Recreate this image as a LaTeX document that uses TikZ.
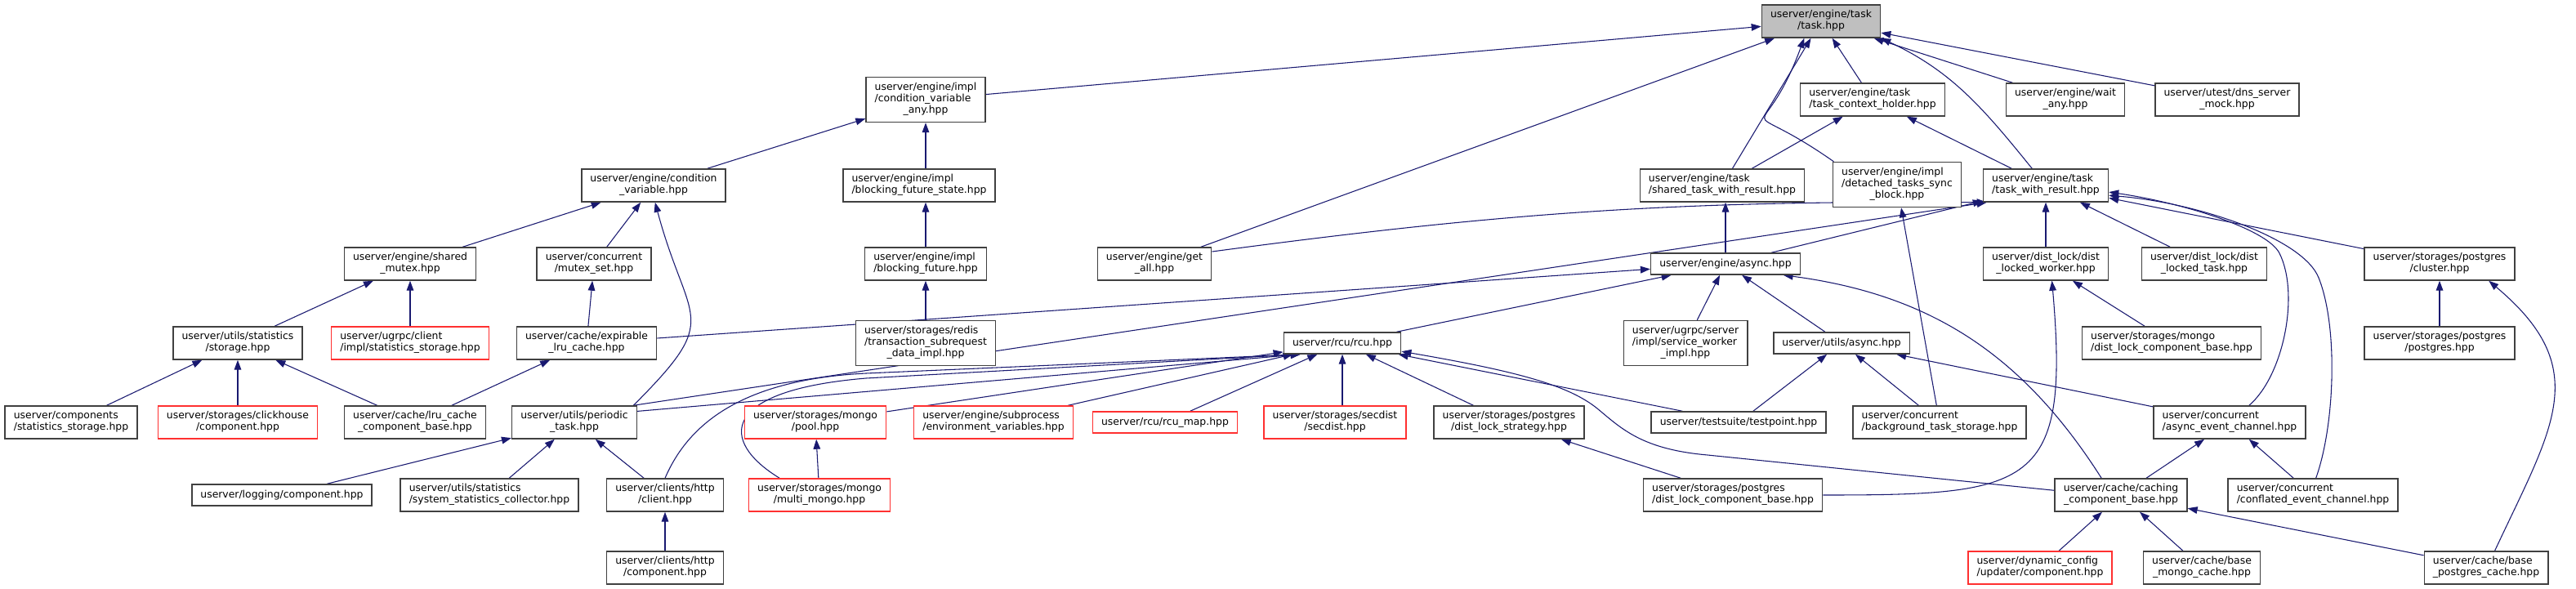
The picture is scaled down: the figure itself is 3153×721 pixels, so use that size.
\documentclass[tikz,border=0pt]{standalone}
\usepackage{fontspec}
\setmainfont{DejaVu Sans}
\usetikzlibrary{arrows.meta,backgrounds}
\definecolor{edgeblue}{HTML}{191970}
\definecolor{truncred}{HTML}{FF3030}
\definecolor{rootgray}{HTML}{BFBFBF}
\definecolor{boxline}{HTML}{404040}
\newcommand{\ltwo}[2]{\begin{tabular}{@{}l@{}}#1\\\multicolumn{1}{@{}c@{}}{#2}\end{tabular}}
\newcommand{\lthree}[3]{\begin{tabular}{@{}l@{}}#1\\#2\\\multicolumn{1}{@{}c@{}}{#3}\end{tabular}}

\begin{document}
\begin{tikzpicture}[x=0.75pt,y=-0.75pt,
  box/.style={draw=boxline,line width=1.1pt,fill=white,inner xsep=8pt,inner ysep=2pt,
    minimum height=19.5pt,font=\fontsize{9.3}{10.5}\selectfont},
  two/.style={minimum height=30pt},
  three/.style={minimum height=41.25pt},
  rbox/.style={box,draw=truncred},
  root/.style={box,fill=rootgray},
  incl/.style={draw=edgeblue,line width=0.8pt,-{Triangle[length=9pt,width=6.5pt]}}]

\useasboundingbox (0,0) rectangle (3153,721);

% --- row 0 : the header itself ---------------------------------------
\node[root,two] (task) at (2229,26) {\ltwo{userver/engine/task}{/task.hpp}};

% --- row 1 --------------------------------------------------------------
\node[box,three] (cva)  at (1133,122) {\lthree{userver/engine/impl}{/condition\_variable}{\_any.hpp}};
\node[box,two]   (tch)  at (2292,122) {\ltwo{userver/engine/task}{/task\_context\_holder.hpp}};
\node[box,two]   (wany) at (2528,122) {\ltwo{userver/engine/wait}{\_any.hpp}};
\node[box,two]   (dns)  at (2726,122) {\ltwo{userver/utest/dns\_server}{\_mock.hpp}};

% --- row 2 --------------------------------------------------------------
\node[box,two]   (cv)   at (800,227)  {\ltwo{userver/engine/condition}{\_variable.hpp}};
\node[box,two]   (bfs)  at (1125,227) {\ltwo{userver/engine/impl}{/blocking\_future\_state.hpp}};
\node[box,two]   (stwr) at (2108,227) {\ltwo{userver/engine/task}{/shared\_task\_with\_result.hpp}};
\node[box,three] (det)  at (2322,226) {\lthree{userver/engine/impl}{/detached\_tasks\_sync}{\_block.hpp}};
\node[box,two]   (twr)  at (2504,227) {\ltwo{userver/engine/task}{/task\_with\_result.hpp}};

% --- row 3 --------------------------------------------------------------
\node[box,two]   (smx)    at (502,323)  {\ltwo{userver/engine/shared}{\_mutex.hpp}};
\node[box,two]   (mxs)    at (727,323)  {\ltwo{userver/concurrent}{/mutex\_set.hpp}};
\node[box,two]   (bf)     at (1133,323) {\ltwo{userver/engine/impl}{/blocking\_future.hpp}};
\node[box,two]   (gall)   at (1413,323) {\ltwo{userver/engine/get}{\_all.hpp}};
\node[box]       (easync) at (2112,323) {userver/engine/async.hpp};
\node[box,two]   (dlw)    at (2504,323) {\ltwo{userver/dist\_lock/dist}{\_locked\_worker.hpp}};
\node[box,two]   (dlt)    at (2698,323) {\ltwo{userver/dist\_lock/dist}{\_locked\_task.hpp}};
\node[box,two]   (clus)   at (2986,323) {\ltwo{userver/storages/postgres}{/cluster.hpp}};

% --- row 4 --------------------------------------------------------------
\node[box,two]   (ststor) at (291,420)  {\ltwo{userver/utils/statistics}{/storage.hpp}};
\node[rbox,two]  (gcstat) at (502,420)  {\ltwo{userver/ugrpc/client}{/impl/statistics\_storage.hpp}};
\node[box,two]   (exlru)  at (718,420)  {\ltwo{userver/cache/expirable}{\_lru\_cache.hpp}};
\node[box,three] (trx)    at (1133,420) {\lthree{userver/storages/redis}{/transaction\_subrequest}{\_data\_impl.hpp}};
\node[box]       (rcu)    at (1643,420) {userver/rcu/rcu.hpp};
\node[box,three] (gsrv)   at (2063,420) {\lthree{userver/ugrpc/server}{/impl/service\_worker}{\_impl.hpp}};
\node[box]       (uasync) at (2254,420) {userver/utils/async.hpp};
\node[box,two]   (mdl)    at (2658,420) {\ltwo{userver/storages/mongo}{/dist\_lock\_component\_base.hpp}};
\node[box,two]   (pgpg)   at (2986,420) {\ltwo{userver/storages/postgres}{/postgres.hpp}};

% --- row 5 --------------------------------------------------------------
\node[box,two]  (cstat)  at (87,517)   {\ltwo{userver/components}{/statistics\_storage.hpp}};
\node[rbox,two] (chc)    at (291,517)  {\ltwo{userver/storages/clickhouse}{/component.hpp}};
\node[box,two]  (lruc)   at (508,517)  {\ltwo{userver/cache/lru\_cache}{\_component\_base.hpp}};
\node[box,two]  (ptask)  at (703,517)  {\ltwo{userver/utils/periodic}{\_task.hpp}};
\node[rbox,two] (mpool)  at (998,517)  {\ltwo{userver/storages/mongo}{/pool.hpp}};
\node[rbox,two] (envv)   at (1216,517) {\ltwo{userver/engine/subprocess}{/environment\_variables.hpp}};
\node[rbox]     (rmap)   at (1426,517) {userver/rcu/rcu\_map.hpp};
\node[rbox,two] (sdist)  at (1634,517) {\ltwo{userver/storages/secdist}{/secdist.hpp}};
\node[box,two]  (dlstr)  at (1847,517) {\ltwo{userver/storages/postgres}{/dist\_lock\_strategy.hpp}};
\node[box]      (tpoint) at (2128,517) {userver/testsuite/testpoint.hpp};
\node[box,two]  (bts)    at (2374,517) {\ltwo{userver/concurrent}{/background\_task\_storage.hpp}};
\node[box,two]  (aec)    at (2729,517) {\ltwo{userver/concurrent}{/async\_event\_channel.hpp}};

% --- row 6 --------------------------------------------------------------
\node[box]      (logc) at (345,606)  {userver/logging/component.hpp};
\node[box,two]  (ssc)  at (599,606)  {\ltwo{userver/utils/statistics}{/system\_statistics\_collector.hpp}};
\node[box,two]  (hcl)  at (814,606)  {\ltwo{userver/clients/http}{/client.hpp}};
\node[rbox,two] (mmon) at (1003,606) {\ltwo{userver/storages/mongo}{/multi\_mongo.hpp}};
\node[box,two]  (pgdl) at (2121,606) {\ltwo{userver/storages/postgres}{/dist\_lock\_component\_base.hpp}};
\node[box,two]  (cach) at (2596,606) {\ltwo{userver/cache/caching}{\_component\_base.hpp}};
\node[box,two]  (cec)  at (2831,606) {\ltwo{userver/concurrent}{/conflated\_event\_channel.hpp}};

% --- row 7 --------------------------------------------------------------
\node[box,two]  (hcomp) at (814,695)  {\ltwo{userver/clients/http}{/component.hpp}};
\node[rbox,two] (dcu)   at (2497,695) {\ltwo{userver/dynamic\_config}{/updater/component.hpp}};
\node[box,two]  (bmc)   at (2695,695) {\ltwo{userver/cache/base}{\_mongo\_cache.hpp}};
\node[box,two]  (bpc)   at (3043,695) {\ltwo{userver/cache/base}{\_postgres\_cache.hpp}};

\begin{scope}[on background layer]
% --- into task.hpp ------------------------------------------------------
\draw[incl] (cva) -- (task);
\draw[incl] (gall) -- (task);
\draw[incl] (stwr) -- (task);
\draw[incl] (det.160) to[out=145,in=-110,looseness=2.5] (task.225);
\draw[incl] (tch) -- (task);
\draw[incl] (twr.129) to[out=129,in=-25] (task.south east);
\draw[incl] (wany) -- (task);
\draw[incl] (dns) -- (task);

% --- engine/impl chain --------------------------------------------------
\draw[incl] (cv) -- (cva);
\draw[incl] (bfs.north -| cva) -- (cva);
\draw[incl] (bf.north) -- (bf.north |- bfs.south);
\draw[incl] (trx) -- (bf);

% --- condition variable, mutexes, statistics -----------------------------
\draw[incl] (smx) -- (cv);
\draw[incl] (mxs) -- (cv);
\draw[incl] (ptask.16) to[out=45,in=-75,looseness=1.6] (cv.-85);
\draw[incl] (ststor) -- (smx);
\draw[incl] (gcstat) -- (smx);
\draw[incl] (cstat) -- (ststor);
\draw[incl] (chc) -- (ststor);
\draw[incl] (lruc) -- (ststor);
\draw[incl] (exlru) -- (mxs);
\draw[incl] (lruc) -- (exlru);
\draw[incl] (exlru) -- (easync);
\draw[incl] (logc) -- (ptask);
\draw[incl] (ssc) -- (ptask);
\draw[incl] (hcl) -- (ptask);
\draw[incl] (hcomp) -- (hcl);
\draw[incl] (mmon) -- (mpool);

% --- into rcu.hpp -------------------------------------------------------
\draw[incl] (ptask.10) -- (rcu.195);
\draw[incl] (hcl.north) .. controls (840,525) and (900,465) .. (1060,457) -- (rcu.195);
\draw[incl] (mmon.157) .. controls (880,540) and (880,478) .. (1060,463) -- (rcu.195);
\draw[incl] (mpool) -- (rcu);
\draw[incl] (envv) -- (rcu);
\draw[incl] (rmap) -- (rcu);
\draw[incl] (sdist.north -| rcu) -- (rcu);
\draw[incl] (dlstr) -- (rcu);
\draw[incl] (tpoint) -- (rcu);
\draw[incl] (cach.176) -- (2090,557) .. controls (2010,550) and (1985,525) .. (1955,500)
  .. controls (1920,472) and (1860,455) .. (rcu.-8);

% --- distributed locks --------------------------------------------------
\draw[incl] (pgdl) -- (dlstr);
\draw[incl] (pgdl.east) to[out=0,in=-85,looseness=1.7] (dlw.-70);
\draw[incl] (mdl) -- (dlw);

% --- into engine/async.hpp ----------------------------------------------
\draw[incl] (easync) -- (twr);
\draw[incl] (easync.north) -- (easync.north |- stwr.south);
\draw[incl] (gsrv) -- (easync);
\draw[incl] (uasync) -- (easync);
\draw[incl] (rcu) -- (easync);
\draw[incl] (cach.139) to[bend right=25] (easync.-11);

% --- task context holder / task with result ------------------------------
\draw[incl] (stwr) -- (tch);
\draw[incl] (twr) -- (tch);
\draw[incl] (gall.12) to[bend left=4] (twr.196);
\draw[incl] (ptask.16) -- (twr.196);
\draw[incl] (dlw) -- (twr);
\draw[incl] (dlt) -- (twr);
\draw[incl] (clus) -- (twr);
\draw[incl] (aec.41) .. controls (2795,460) and (2815,360) .. (2790,310)
  .. controls (2775,280) and (2670,248) .. (twr.-6);
\draw[incl] (cec.80) .. controls (2858,520) and (2862,400) .. (2838,340)
  .. controls (2819,292) and (2690,248) .. (twr.-9);

% --- utils/async, channels, caches ---------------------------------------
\draw[incl] (tpoint) -- (uasync);
\draw[incl] (bts) -- (uasync);
\draw[incl] (aec) -- (uasync);
\draw[incl] (bts) -- (det);
\draw[incl] (cach) -- (aec);
\draw[incl] (cec) -- (aec);
\draw[incl] (dcu) -- (cach);
\draw[incl] (bmc) -- (cach);
\draw[incl] (bpc) -- (cach);
\draw[incl] (bpc.63) to[out=65,in=-40,looseness=1.3] (clus.-19);
\draw[incl] (pgpg) -- (clus);
\end{scope}
\end{tikzpicture}
\end{document}
